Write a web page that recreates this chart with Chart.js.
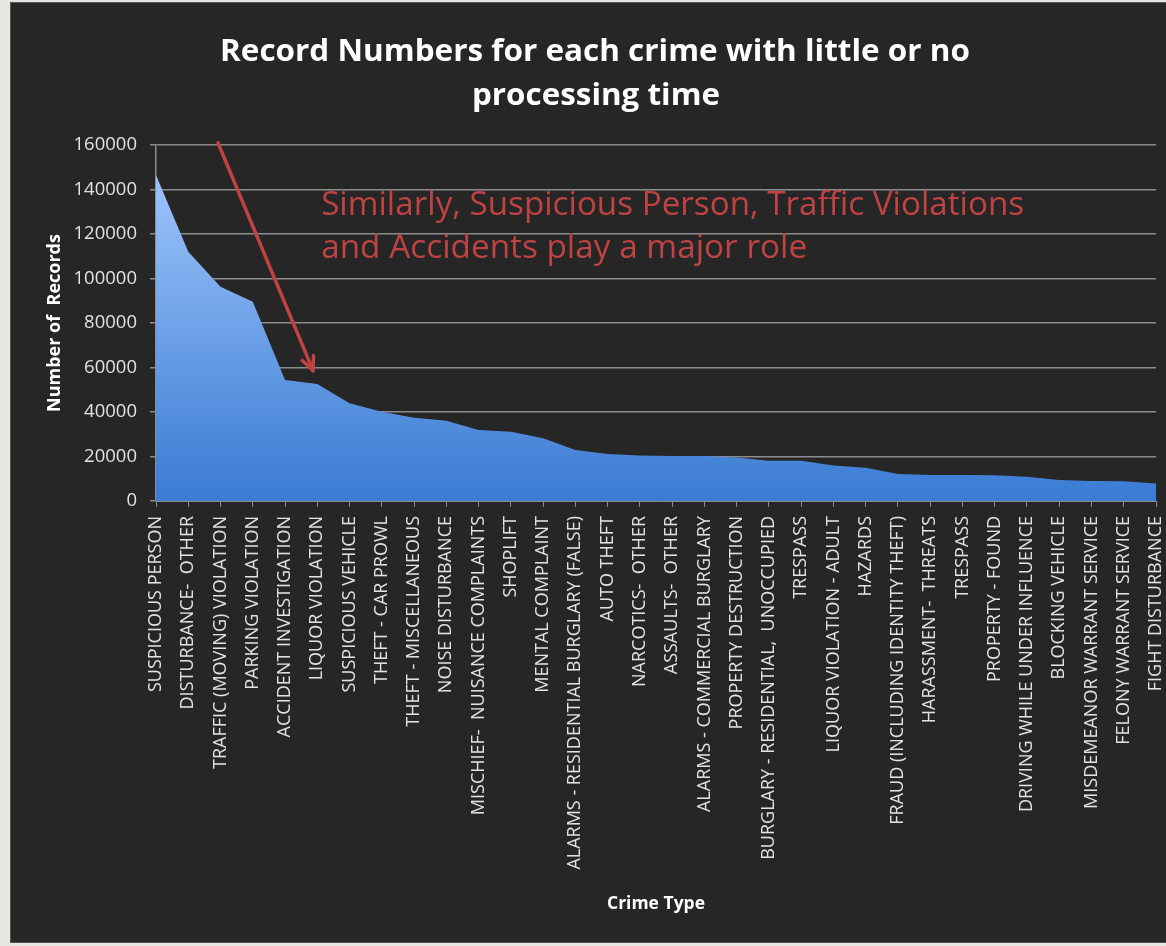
<!DOCTYPE html>
<html>
<head>
<meta charset="utf-8">
<title>Record Numbers for each crime with little or no processing time</title>
<script src="https://cdn.jsdelivr.net/npm/chart.js"></script>
<style>
  html, body { margin: 0; padding: 0; background: #e8e6e3; }
  #wrap { position: relative; width: 1166px; height: 946px; }
</style>
</head>
<body>
<div id="wrap"><canvas id="crimeChart"></canvas></div>
<script>
// ── DATA ────────────────────────────────────────────────────
const crimeTypes = [
  'SUSPICIOUS PERSON', 'DISTURBANCE-  OTHER', 'TRAFFIC (MOVING) VIOLATION',
  'PARKING VIOLATION', 'ACCIDENT INVESTIGATION', 'LIQUOR VIOLATION',
  'SUSPICIOUS VEHICLE', 'THEFT - CAR PROWL', 'THEFT - MISCELLANEOUS',
  'NOISE DISTURBANCE', 'MISCHIEF-  NUISANCE COMPLAINTS', 'SHOPLIFT',
  'MENTAL COMPLAINT', 'ALARMS - RESIDENTIAL BURGLARY (FALSE)', 'AUTO THEFT',
  'NARCOTICS-  OTHER', 'ASSAULTS-  OTHER', 'ALARMS - COMMERCIAL BURGLARY',
  'PROPERTY DESTRUCTION', 'BURGLARY - RESIDENTIAL,  UNOCCUPIED', 'TRESPASS',
  'LIQUOR VIOLATION - ADULT', 'HAZARDS', 'FRAUD (INCLUDING IDENTITY THEFT)',
  'HARASSMENT-  THREATS', 'TRESPASS', 'PROPERTY - FOUND',
  'DRIVING WHILE UNDER INFLUENCE', 'BLOCKING VEHICLE',
  'MISDEMEANOR WARRANT SERVICE', 'FELONY WARRANT SERVICE', 'FIGHT DISTURBANCE'
];

const recordCounts = [
  146500, 112000, 96300, 89600, 54400, 52600, 43900, 40100,
  37400, 36100, 31900, 31100, 28200, 22900, 21100, 20500,
  20200, 20200, 19500, 18100, 18100, 15900, 15000, 12100,
  11700, 11700, 11600, 10900, 9400, 9000, 8900, 7900
];

const yMin = 0;
const yMax = 160000;
const yStep = 20000;

const titleLines = ['Record Numbers for each crime with little or no', 'processing time'];
const noteLines = ['Similarly, Suspicious Person, Traffic Violations', 'and Accidents play a major role'];

// arrow + note anchored in data space (category index, record count)
const arrowFrom = { x: 1.92, y: 161000 };
const arrowTo   = { x: 4.87, y: 58600 };
const noteAt    = { x: 5.12, y: 128500 };

const FONT = "'Open Sans', 'Noto Sans', sans-serif";
const RED = '#bf4342';

// draw text squeezed/stretched to a target width (Calibri is narrower than our fonts)
function fitText(ctx, text, x, y, width) {
  const w = ctx.measureText(text).width;
  ctx.save();
  ctx.translate(x, y);
  ctx.scale(width / w, 1);
  ctx.fillText(text, 0, 0);
  ctx.restore();
}

// ── PANEL + TITLE ───────────────────────────────────────────
const panelPlugin = {
  id: 'panel',
  beforeDraw(chart) {
    const ctx = chart.ctx;
    ctx.save();
    ctx.fillStyle = '#e8e6e3';
    ctx.fillRect(0, 0, chart.width, chart.height);
    ctx.fillStyle = '#262626';
    ctx.fillRect(10, 2, 1156, 940);
    ctx.strokeStyle = '#555555';
    ctx.lineWidth = 1;
    ctx.strokeRect(10.5, 2.5, 1156, 940);

    ctx.fillStyle = '#ffffff';
    ctx.font = 'bold 30px ' + FONT;
    ctx.textAlign = 'left';
    ctx.textBaseline = 'alphabetic';
    fitText(ctx, titleLines[0], 220, 61, 750);
    fitText(ctx, titleLines[1], 472, 105, 248);
    ctx.restore();
  }
};

// ── ARROW + NOTE ────────────────────────────────────────────
const notePlugin = {
  id: 'note',
  afterDatasetsDraw(chart) {
    const { ctx, scales: { x, y } } = chart;
    const x1 = x.getPixelForValue(arrowFrom.x), y1 = y.getPixelForValue(arrowFrom.y);
    const x2 = x.getPixelForValue(arrowTo.x),   y2 = y.getPixelForValue(arrowTo.y);
    const ang = Math.atan2(y2 - y1, x2 - x1);

    ctx.save();
    ctx.strokeStyle = RED;
    ctx.lineWidth = 3.5;
    ctx.lineCap = 'round';
    ctx.lineJoin = 'round';
    ctx.beginPath();
    ctx.moveTo(x1, y1);
    ctx.lineTo(x2, y2);
    ctx.stroke();
    // open arrow head
    ctx.beginPath();
    ctx.moveTo(x2 - 15 * Math.cos(ang - 0.42), y2 - 15 * Math.sin(ang - 0.42));
    ctx.lineTo(x2, y2);
    ctx.lineTo(x2 - 15 * Math.cos(ang + 0.42), y2 - 15 * Math.sin(ang + 0.42));
    ctx.stroke();

    const nx = x.getPixelForValue(noteAt.x);
    const ny = y.getPixelForValue(noteAt.y);
    ctx.fillStyle = RED;
    ctx.font = '32px ' + FONT;
    ctx.textAlign = 'left';
    ctx.textBaseline = 'alphabetic';
    fitText(ctx, noteLines[0], nx, ny, 703);
    fitText(ctx, noteLines[1], nx, ny + 43, 486);
    ctx.restore();
  }
};

// ── CHART ───────────────────────────────────────────────────
new Chart(document.getElementById('crimeChart'), {
  type: 'line',
  data: {
    labels: crimeTypes,
    datasets: [{
      label: 'Number of Records',
      data: recordCounts,
      fill: 'origin',
      borderWidth: 0,
      pointRadius: 0,
      tension: 0,
      backgroundColor: (c) => {
        const area = c.chart.chartArea;
        if (!area) return '#5b9bd5';
        const g = c.chart.ctx.createLinearGradient(0, area.top, 0, area.bottom);
        g.addColorStop(0, '#a6cbff');
        g.addColorStop(1, '#3a7bd3');
        return g;
      }
    }]
  },
  options: {
    responsive: true,
    maintainAspectRatio: false,
    animation: false,
    layout: { padding: { top: 145, left: 12, right: 10, bottom: 16 } },
    plugins: {
      legend: { display: false },
      tooltip: { enabled: false }
    },
    scales: {
      x: {
        offset: false,
        // fixed height, and no extra side padding for the rotated end labels
        afterFit: (s) => { s.height = 429; s.paddingLeft = 0; s.paddingRight = 0; },
        grid: { drawOnChartArea: false, drawTicks: true, tickLength: 6, color: '#8c8c8c' },
        border: { display: true, color: '#8c8c8c', width: 1 },
        ticks: {
          autoSkip: false,
          minRotation: 90,
          maxRotation: 90,
          padding: 9,
          color: '#e2e2e2',
          font: { family: FONT, size: 18 }
        },
        title: {
          display: true,
          text: 'Crime Type',
          color: '#ffffff',
          font: { family: FONT, size: 17.5, weight: 'bold' },
          padding: { top: 4, bottom: 15 }
        }
      },
      y: {
        min: yMin,
        max: yMax,
        afterFit: (s) => { s.width = 144; },
        grid: { color: '#8c8c8c', lineWidth: 1.5, tickLength: 6 },
        border: { display: true, color: '#8c8c8c', width: 1.5 },
        ticks: {
          stepSize: yStep,
          padding: 13,
          color: '#e2e2e2',
          font: { family: FONT, size: 18.5 },
          callback: (v) => String(v)
        },
        title: {
          display: true,
          text: 'Number of  Records',
          color: '#ffffff',
          font: { family: FONT, size: 18, weight: 'bold' },
          padding: { top: 32, bottom: 4 }
        }
      }
    }
  },
  plugins: [panelPlugin, notePlugin]
});
</script>
</body>
</html>
